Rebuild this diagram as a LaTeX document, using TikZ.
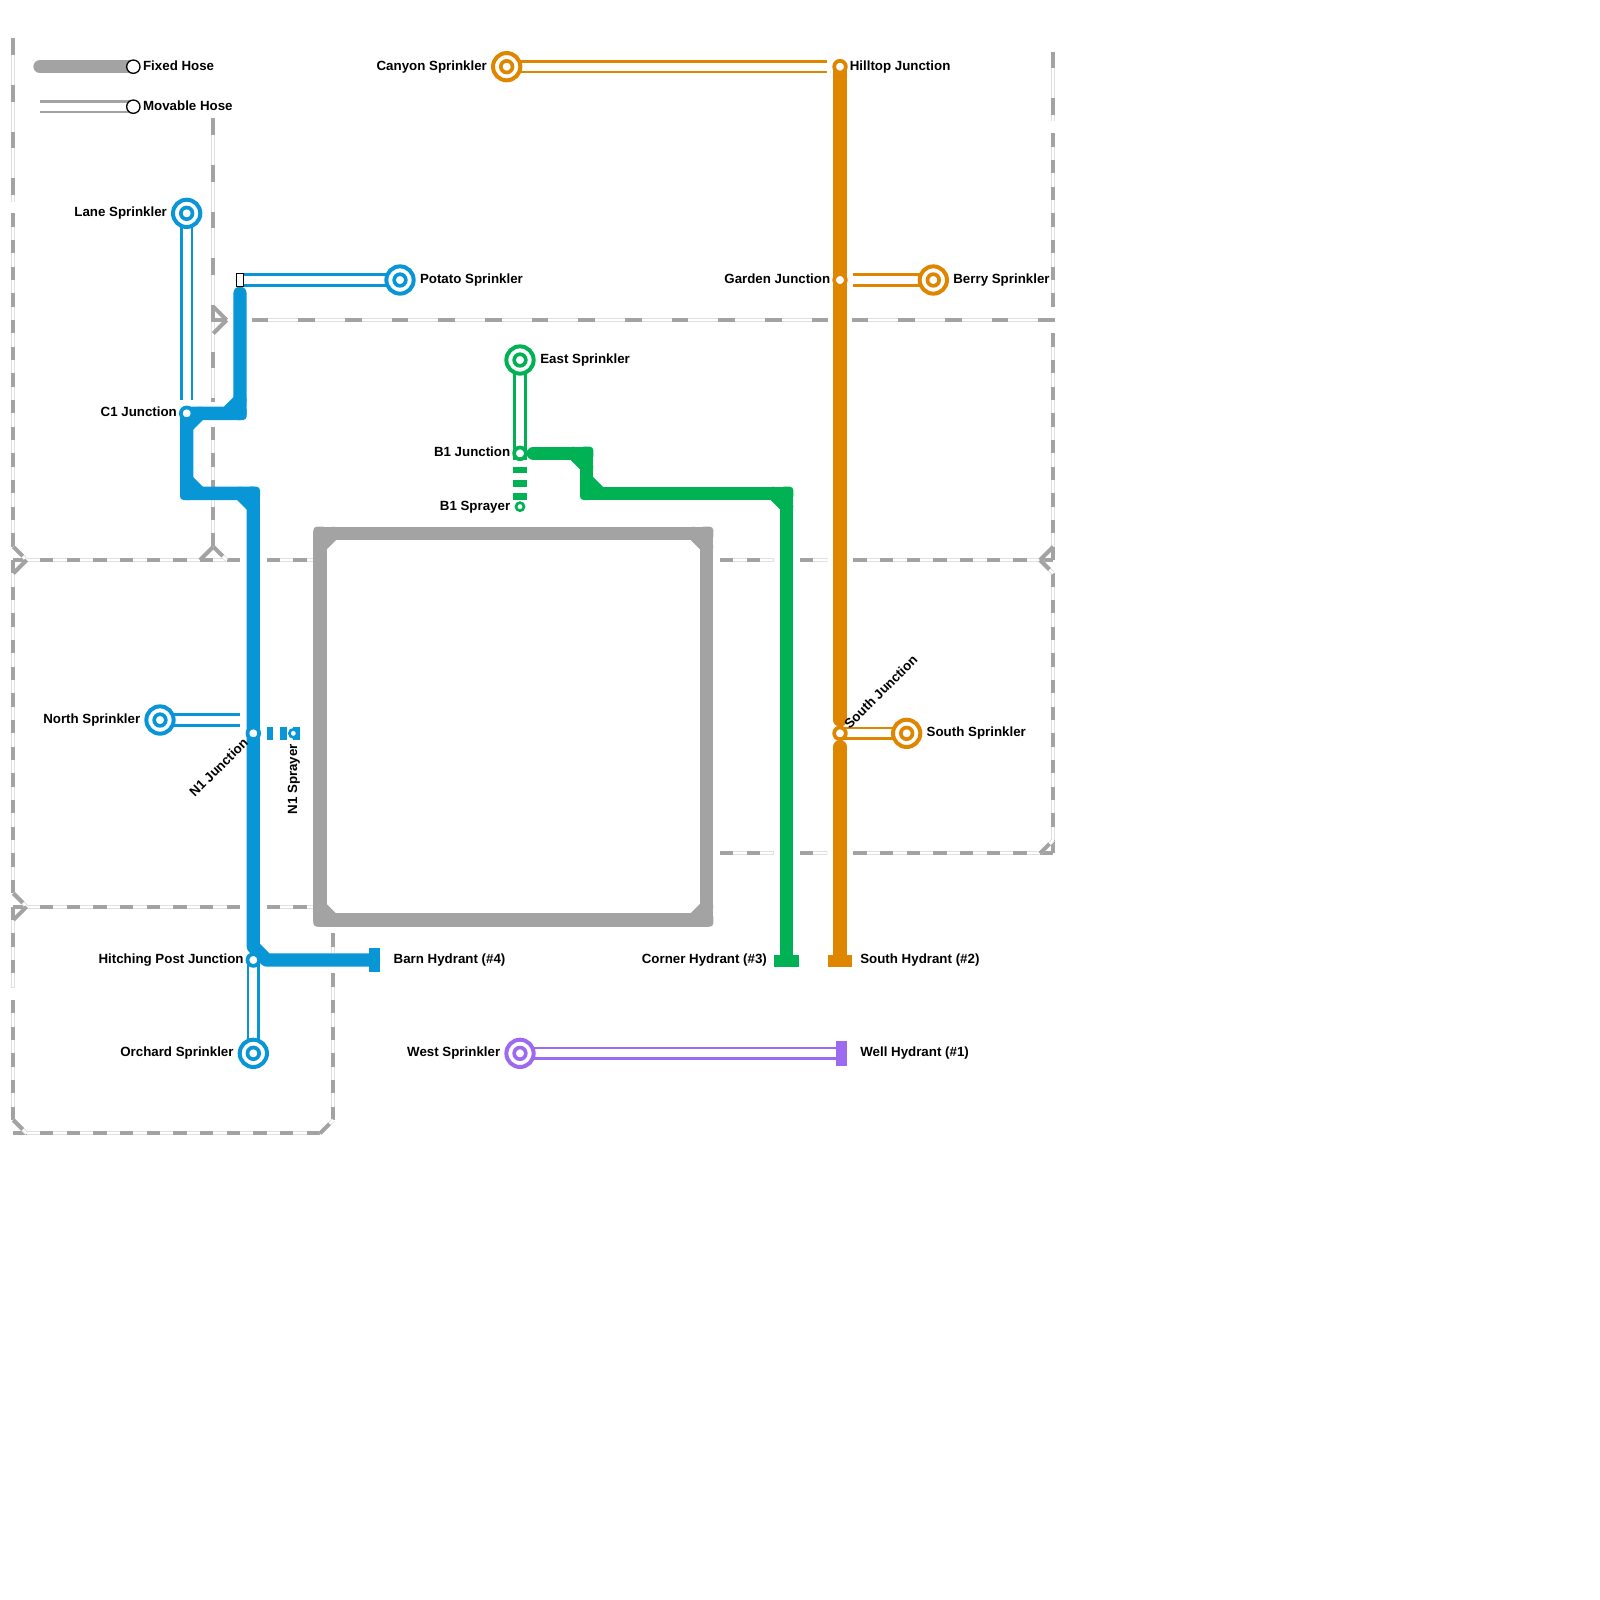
\documentclass[tikz,border=0pt]{standalone}
\usepackage{fontspec}
\setmainfont{Liberation Sans}
\usetikzlibrary{backgrounds}
\definecolor{hoseblue}{HTML}{0896D7}
\definecolor{hoseorange}{HTML}{DF8600}
\definecolor{hosegreen}{HTML}{00B254}
\definecolor{hosepurple}{HTML}{9C6AF0}
\definecolor{hosegray}{HTML}{A3A3A3}
\definecolor{zoneedge}{HTML}{E0E0E0}
\newcommand{\hoseelbow}[5]{%
  \fill[#1, rounded corners=.35mm] ({#2-.5},{#3-.5}) rectangle ({#2+.5},{#3+.5});
  \draw[fixedhose=#1] ({#2},{#3+#5}) -- ({#2+#4},{#3});}

\begin{document}
\begin{tikzpicture}[
  x=0.13333cm, y=-0.13333cm,
  fixedhose/.style={draw=#1, line width=1.333mm, line cap=round, line join=round},
  movablehose/.style={draw=#1, line width=.267mm, double=white, double distance=.8mm},
  sprayhose/.style={draw=#1, line width=1.333mm, dash pattern=on .667mm off .667mm},
  sprinkler/.style={circle, draw=#1, fill=white, line width=.4mm, minimum size=2.73mm, inner sep=0pt,
    path picture={\draw[#1, line width=.367mm] (path picture bounding box.center) circle (.583mm);}},
  junction/.style={circle, draw=#1, fill=white, line width=.37mm, minimum size=1.17mm, inner sep=0pt},
  sprayer/.style={circle, draw=#1, fill=white, line width=.267mm, minimum size=.8mm, inner sep=0pt},
  legendstop/.style={circle, draw=black, fill=white, line width=.133mm, minimum size=1.333mm, inner sep=0pt},
  hydrantv/.style={rectangle, fill=#1, minimum width=1.1mm, minimum height=2.467mm, inner sep=0pt},
  hydranth/.style={rectangle, fill=#1, minimum width=2.467mm, minimum height=1.133mm, inner sep=0pt},
  endcap/.style={rectangle, draw=black, fill=white, line width=.1mm, minimum width=.667mm, minimum height=1.333mm, inner sep=0pt},
  zoneline/.style={draw=hosegray, line width=.04cm,
    preaction={draw=zoneedge, solid, line width=.04cm},
    preaction={draw=white, solid, line width=.02cm}},
  zonenarrow/.style={zoneline, dash pattern=on .1333cm off .1333cm},
  zonewide/.style={zoneline, dash pattern=on .1667cm off .3cm},
  zonechamfer/.style={draw=hosegray, line width=.04cm},
  hoselabel/.style={inner sep=0pt, font=\fontsize{3.79}{4.5}\selectfont\bfseries}
]
  \useasboundingbox (0,0) rectangle (120,120);

  % legend
  \node[legendstop] (fixedstop) at (10,5) {};
  \node[legendstop] (movablestop) at (10,8) {};
  \coordinate (fixedstart) at (3,5);
  \coordinate (movablestart) at (3,8);

  % sprinklers
  \node[sprinkler=hoseblue] (lane) at (14,16) {};
  \node[sprinkler=hoseblue] (potato) at (30,21) {};
  \node[sprinkler=hoseblue] (north) at (12,54) {};
  \node[sprinkler=hoseblue] (orchard) at (19,79) {};
  \node[sprinkler=hoseorange] (canyon) at (38,5) {};
  \node[sprinkler=hoseorange] (berry) at (70,21) {};
  \node[sprinkler=hoseorange] (southsp) at (68,55) {};
  \node[sprinkler=hosegreen] (east) at (39,27) {};
  \node[sprinkler=hosepurple] (west) at (39,79) {};

  % junctions
  \node[junction=hoseblue] (c1) at (14,31) {};
  \node[junction=hoseblue] (n1) at (19,55) {};
  \node[junction=hoseblue] (hitching) at (19,72) {};
  \node[junction=hosegreen] (b1) at (39,34) {};
  \node[junction=hoseorange] (hilltop) at (63,5) {};
  \node[junction=hoseorange] (garden) at (63,21) {};
  \node[junction=hoseorange] (southj) at (63,55) {};
  \node[sprayer=hoseblue] (n1spray) at (22,55) {};
  \node[sprayer=hosegreen] (b1spray) at (39,38) {};
  \node[endcap] (potatocap) at (18,21) {};

  % hydrants
  \node[hydrantv=hoseblue] (barn) at (28.1,72) {};
  \node[hydranth=hosegreen] (corner) at (59,72.08) {};
  \node[hydranth=hoseorange] (southhy) at (63,72.08) {};
  \node[hydrantv=hosepurple] (well) at (63.09,79) {};

  % free ends
  \coordinate (laneend) at (14,30);
  \coordinate (northend) at (18,54);
  \coordinate (canyonend) at (62,5);
  \coordinate (berryend) at (64,21);
  \coordinate (n1sprayend) at (22.5,55);

  \begin{scope}[on background layer]
    % dashed zones
    \foreach \xa/\ya/\xb/\yb in {1/16/1/41, 1/42/1/67, 1/68/1/74, 1/75/1/84,
        1/42/18/42, 20/42/24/42, 54/42/58/42, 60/42/62/42, 64/42/79/42,
        1/68/18/68, 20/68/24/68, 1/85/24/85, 25/70/25/71.5, 25/73/25/84, 16/32/16/41,
        79/10/79/23, 79/25/79/42, 79/43/79/64, 54/64/58/64, 60/64/62/64, 64/64/79/64,
        1/41/2/42, 1/67/2/68, 16/41/17/42, 1/84/2/85, 24/85/25/84, 78/64/79/63, 78/42/79/43}
      \draw[zonenarrow] (\xa,\ya) -- (\xb,\yb);
    \foreach \xa/\ya/\xb/\yb in {1/2.875/1/15.125, 16/8.875/16/30.125, 18.875/24/62.125/24,
        63.875/24/79.125/24, 79/3.875/79/9.07}
      \draw[zonewide] (\xa,\ya) -- (\xb,\yb);
    \foreach \xa/\ya/\xb/\yb in {2/42/1/43, 2/68/1/69, 15/42/16/41, 16/23/17/24,
        16/25/17/24, 16/24/17/24, 79/41/78/42}
      \draw[zonechamfer] (\xa,\ya) -- (\xb,\yb);

    % gray loop
    \draw[fixedhose=hosegray] (24,40) rectangle (53,69);
    \foreach \cx/\cy/\dx/\dy in {24/40/1/1, 53/40/-1/1, 53/69/-1/-1, 24/69/1/-1}
      {\hoseelbow{hosegray}{\cx}{\cy}{\dx}{\dy}}

    % legend hoses
    \draw[fixedhose=hosegray] (fixedstart) -- (fixedstop.center);
    \draw[movablehose=hosegray] (movablestart) -- (movablestop.center);

    % fixed hoses
    \draw[fixedhose=hoseblue] (18,22) -- (18,31) -- (c1.center) -- (14,37) -- (19,37)
      -- (n1.center) -- (19,71) -- (20,72) -- (barn.west);
    \foreach \cx/\cy/\dx/\dy in {18/31/-1/-1, 14/37/1/-1, 19/37/-1/1}
      {\hoseelbow{hoseblue}{\cx}{\cy}{\dx}{\dy}}
    \draw[fixedhose=hoseblue] (14,32) -- (15,31);
    \draw[fixedhose=hosegreen] (40,34) -- (44,34) -- (44,37) -- (59,37) -- (corner.north);
    \foreach \cx/\cy/\dx/\dy in {44/34/-1/1, 44/37/1/-1, 59/37/-1/1}
      {\hoseelbow{hosegreen}{\cx}{\cy}{\dx}{\dy}}
    \draw[fixedhose=hoseorange] (hilltop.center) -- (garden.center) -- (63,54);
    \draw[fixedhose=hoseorange] (63,56) -- (southhy.north);

    % movable hoses
    \draw[movablehose=hoseblue] (lane.center) -- (laneend);
    \draw[movablehose=hoseblue] (potato.center) -- (potatocap.center);
    \draw[movablehose=hoseblue] (north.center) -- (northend);
    \draw[movablehose=hoseblue] (orchard.center) -- (hitching.center);
    \draw[movablehose=hosegreen] (east.center) -- (b1.center);
    \draw[movablehose=hoseorange] (canyon.center) -- (canyonend);
    \draw[movablehose=hoseorange] (berry.center) -- (berryend);
    \draw[movablehose=hoseorange] (southsp.center) -- (southj.center);
    \draw[movablehose=hosepurple] (west.center) -- (well.center);

    % sprayer hoses
    \draw[sprayhose=hoseblue] (n1.center) -- (n1sprayend);
    \draw[sprayhose=hosegreen] (b1.center) -- (b1spray.center);
  \end{scope}

  % labels
  \node[hoselabel, anchor=base west] (fixedlabel) at (10.68,5.25) {Fixed Hose};
  \node[hoselabel, anchor=base west] (movablelabel) at (10.68,8.25) {Movable Hose};
  \node[hoselabel, anchor=base east] (lanelabel) at (12.57,16.25) {Lane Sprinkler};
  \node[hoselabel, anchor=base west] (potatolabel) at (31.45,21.25) {Potato Sprinkler};
  \node[hoselabel, anchor=base east] (c1label) at (13.32,31.25) {C1 Junction};
  \node[hoselabel, anchor=base east] (northlabel) at (10.57,54.25) {North Sprinkler};
  \node[hoselabel, anchor=base east] (hitchinglabel) at (18.32,72.25) {Hitching Post Junction};
  \node[hoselabel, anchor=base east] (orchardlabel) at (17.57,79.25) {Orchard Sprinkler};
  \node[hoselabel, anchor=base west] (barnlabel) at (29.47,72.25) {Barn Hydrant (\#4)};
  \node[hoselabel, anchor=base east] (canyonlabel) at (36.57,5.25) {Canyon Sprinkler};
  \node[hoselabel, anchor=base west] (hilltoplabel) at (63.68,5.25) {Hilltop Junction};
  \node[hoselabel, anchor=base east] (gardenlabel) at (62.32,21.25) {Garden Junction};
  \node[hoselabel, anchor=base west] (berrylabel) at (71.45,21.25) {Berry Sprinkler};
  \node[hoselabel, anchor=base west] (eastlabel) at (40.47,27.25) {East Sprinkler};
  \node[hoselabel, anchor=base east] (b1label) at (38.32,34.25) {B1 Junction};
  \node[hoselabel, anchor=base east] (b1spraylabel) at (38.32,38.25) {B1 Sprayer};
  \node[hoselabel, anchor=base west] (southsplabel) at (69.45,55.25) {South Sprinkler};
  \node[hoselabel, anchor=base east] (cornerlabel) at (57.57,72.25) {Corner Hydrant (\#3)};
  \node[hoselabel, anchor=base west] (southhylabel) at (64.47,72.25) {South Hydrant (\#2)};
  \node[hoselabel, anchor=base east] (westlabel) at (37.57,79.25) {West Sprinkler};
  \node[hoselabel, anchor=base west] (welllabel) at (64.47,79.25) {Well Hydrant (\#1)};
  \node[hoselabel, anchor=base east, rotate=45] (n1label) at (18.7,55.75) {N1 Junction};
  \node[hoselabel, anchor=base east, rotate=90] (n1spraylabel) at (22.28,55.75) {N1 Sprayer};
  \node[hoselabel, anchor=base west, rotate=45] (southjlabel) at (63.7,54.75) {South Junction};
\end{tikzpicture}
\end{document}
